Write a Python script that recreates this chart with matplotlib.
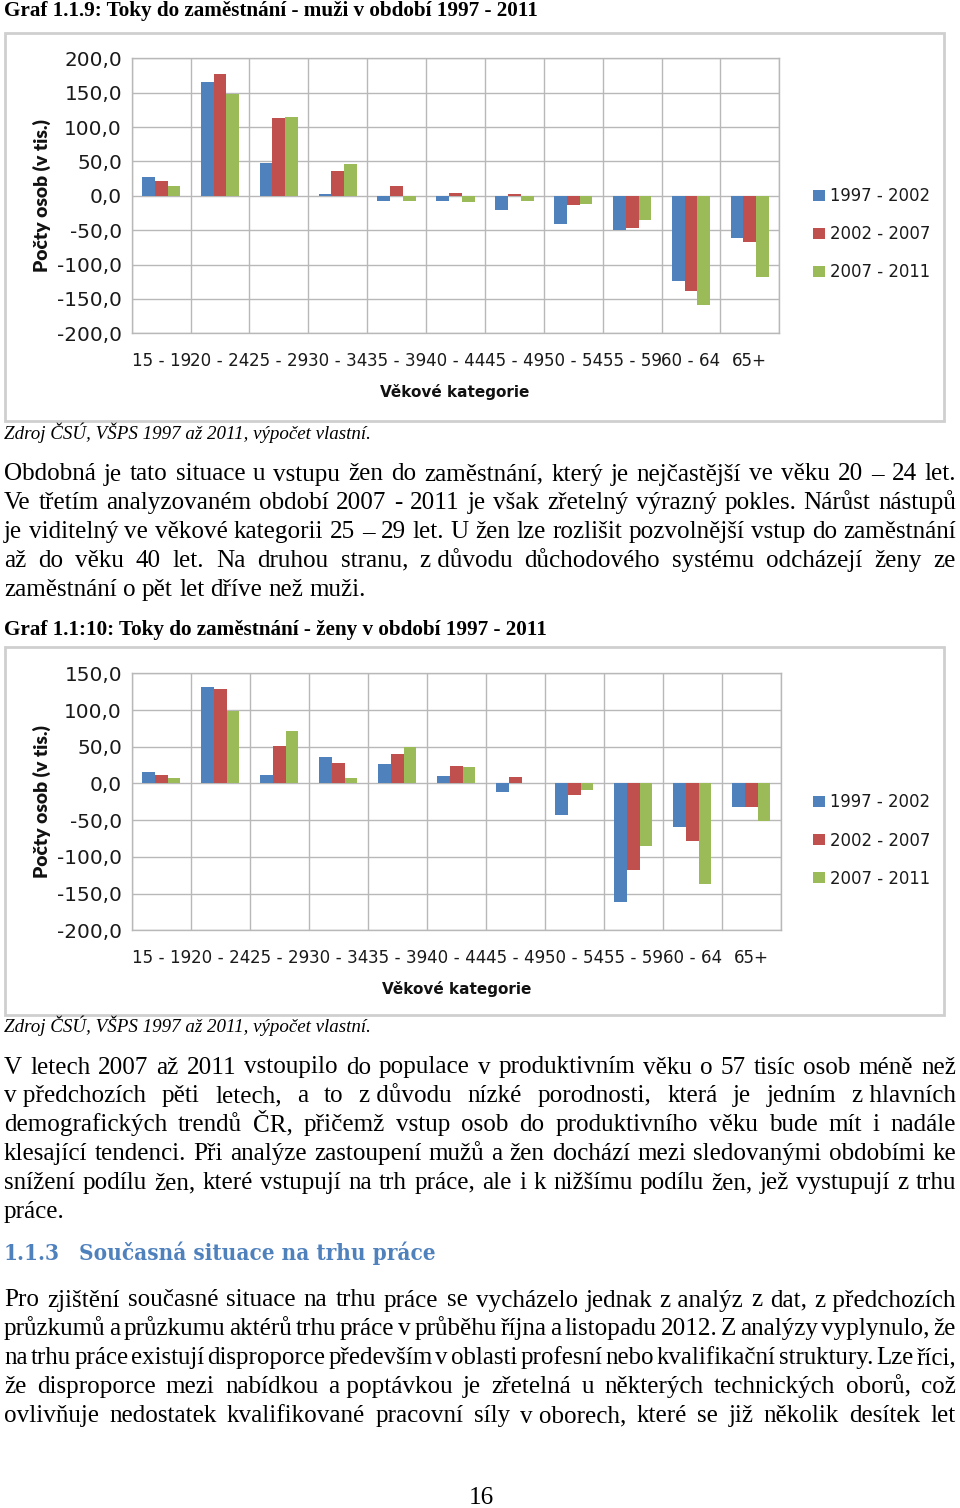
import matplotlib
matplotlib.use("Agg")
import matplotlib.pyplot as plt
from matplotlib.patches import Rectangle, Patch
import numpy as np

# ---------------- data ----------------
categories = ["15 - 19", "20 - 24", "25 - 29", "30 - 34", "35 - 39", "40 - 44",
              "45 - 49", "50 - 54", "55 - 59", "60 - 64", "65+"]
series_names = ["1997 - 2002", "2002 - 2007", "2007 - 2011"]

men_1997_2002 = [26.7, 165.8, 47.0, 2.0, -8.0, -8.0, -21.0, -41.7, -50.4, -123.6, -61.1]
men_2002_2007 = [21.8, 177.5, 113.0, 35.4, 13.6, 4.0, 3.0, -13.6, -46.5, -138.7, -67.9]
men_2007_2011 = [13.6, 148.4, 114.4, 45.6, -8.2, -9.7, -8.2, -11.2, -35.9, -159.5, -118.3]

women_1997_2002 = [15.6, 131.3, 11.0, 36.0, 26.5, 10.2, -11.0, -43.6, -161.0, -59.5, -32.2]
women_2002_2007 = [11.0, 129.0, 51.0, 27.9, 40.0, 23.3, 8.6, -16.0, -117.6, -79.0, -32.2]
women_2007_2011 = [6.9, 98.6, 71.0, 7.0, 49.2, 21.9, 0.0, -8.6, -85.3, -137.5, -50.8]

men_yticks = [-200, -150, -100, -50, 0, 50, 100, 150, 200]
women_yticks = [-200, -150, -100, -50, 0, 50, 100, 150]

colors = ["#4F81BD", "#C0504D", "#9BBB59"]

title_men = "Graf 1.1.9: Toky do zaměstnání - muži v období 1997 - 2011"
title_women = "Graf 1.1:10: Toky do zaměstnání - ženy v období 1997 - 2011"
source_text = "Zdroj ČSÚ, VŠPS 1997 až 2011, výpočet vlastní."
ylabel_text = "Počty osob (v tis.)"
xlabel_text = "Věkové kategorie"

para1 = [
    "Obdobná je tato situace u vstupu žen do zaměstnání, který je nejčastější ve věku 20 – 24 let.",
    "Ve třetím analyzovaném období 2007 - 2011 je však zřetelný výrazný pokles. Nárůst nástupů",
    "je viditelný ve věkové kategorii 25 – 29 let. U žen lze rozlišit pozvolnější vstup do zaměstnání",
    "až do věku 40 let. Na druhou stranu, z\u00a0důvodu důchodového systému odcházejí ženy ze",
    "zaměstnání o pět let dříve než muži.",
]
para2 = [
    "V letech 2007 až 2011 vstoupilo do populace v produktivním věku o 57 tisíc osob méně než",
    "v\u00a0předchozích pěti letech, a to z\u00a0důvodu nízké porodnosti, která je jedním z\u00a0hlavních",
    "demografických trendů ČR, přičemž vstup osob do produktivního věku bude mít i nadále",
    "klesající tendenci. Při analýze zastoupení mužů a žen dochází mezi sledovanými obdobími ke",
    "snížení podílu žen, které vstupují na trh práce, ale i k nižšímu podílu žen, jež vystupují z trhu",
    "práce.",
]
para3 = [
    "Pro zjištění současné situace na trhu práce se vycházelo jednak z\u00a0analýz z dat, z\u00a0předchozích",
    "průzkumů a průzkumu aktérů trhu práce v průběhu října a listopadu 2012. Z analýzy vyplynulo, že",
    "na trhu práce existují disproporce především v oblasti profesní nebo kvalifikační struktury. Lze říci,",
    "že disproporce mezi nabídkou a\u00a0poptávkou je zřetelná u některých technických oborů, což",
    "ovlivňuje nedostatek kvalifikované pracovní síly v\u00a0oborech, které se již několik desítek let",
]
heading_num = "1.1.3"
heading_text = "Současná situace na trhu práce"
page_number = "16"

# ---------------- figure ----------------
W, H = 960, 1508
fig = plt.figure(figsize=(W / 100, H / 100), dpi=100)
fig.patch.set_facecolor("white")
renderer = fig.canvas.get_renderer()

SERIF = "Liberation Serif"
SANS = "DejaVu Sans"
GRID = "#b8b8b8"


def text_width(s, **kw):
    t = fig.text(0, 0, s, **kw)
    w = t.get_window_extent(renderer).width
    t.remove()
    return w


def fitted_size(s, target, base=12.0, **kw):
    return base * target / text_width(s, fontsize=base, **kw)


def put(s, x, y, size, ha="left", va="baseline", **kw):
    return fig.text(x / W, 1 - y / H, s, fontsize=size, ha=ha, va=va, **kw)


# chart fonts (chart picture is stretched horizontally -> wide font)
tick_x_size = fitted_size("15 - 19", 59, family=SANS)
tick_y_size = fitted_size("200,0", 57, family=SANS)
legend_size = fitted_size("1997 - 2002", 100, family=SANS)
xlabel_size = fitted_size(xlabel_text, 150, family=SANS, weight="bold")
ylabel_size = fitted_size(ylabel_text, 152, family="Lato", weight="heavy")


def draw_chart(frame_tb, ax_box, data, yticks, ylab_y, xlab_xy, legend_y):
    ft, fb = frame_tb
    fig.patches.append(Rectangle((5 / W, 1 - fb / H), (944 - 5) / W, (fb - ft) / H,
                                 transform=fig.transFigure, fill=False,
                                 edgecolor="#cfcfcf", lw=2))
    l, t, r, b = ax_box
    ax = fig.add_axes([l / W, 1 - b / H, (r - l) / W, (b - t) / H])
    x = np.arange(len(categories))
    bw = 0.217
    for i, (vals, c) in enumerate(zip(data, colors)):
        ax.bar(x + (i - 1) * bw, vals, width=bw, color=c, zorder=3)
    ax.set_xlim(-0.5, len(categories) - 0.5)
    ax.set_ylim(yticks[0], yticks[-1])
    ax.set_yticks(yticks, [f"{v:.1f}".replace(".", ",") for v in yticks])
    ax.set_xticks(x, categories)
    ax.set_xticks(np.arange(-0.5, len(categories)), minor=True)
    ax.set_axisbelow(True)
    ax.yaxis.grid(True, which="major", color=GRID, lw=1)
    ax.xaxis.grid(True, which="minor", color=GRID, lw=1)
    ax.xaxis.grid(False, which="major")
    ax.tick_params(which="both", length=0)
    ax.tick_params(axis="y", pad=7, labelsize=tick_y_size, labelcolor="#1a1a1a")
    ax.tick_params(axis="x", pad=13.2, labelsize=tick_x_size, labelcolor="#1a1a1a")
    for lab in ax.get_xticklabels() + ax.get_yticklabels():
        lab.set_family(SANS)
    for s in ax.spines.values():
        s.set_color(GRID)
        s.set_linewidth(1)
    # axis titles
    put(ylabel_text, 42, ylab_y, ylabel_size, ha="center", va="center",
        rotation=90, family="Lato", weight="heavy", color="#111111")
    put(xlabel_text, xlab_xy[0], xlab_xy[1], xlabel_size, ha="center", va="center",
        family=SANS, weight="bold", color="#111111")
    # legend
    fpx = legend_size * 100 / 72
    handles = [Patch(facecolor=c, edgecolor="none") for c in colors]
    leg = ax.legend(handles, series_names, loc="center left",
                    bbox_to_anchor=(813 / W, 1 - legend_y / H), bbox_transform=fig.transFigure,
                    frameon=False, borderpad=0, borderaxespad=0,
                    handlelength=12 / fpx, handleheight=11 / fpx,
                    handletextpad=5 / fpx, labelspacing=(39.5 - 1.17 * fpx) / fpx,
                    prop={"family": SANS, "size": legend_size})
    for tx in leg.get_texts():
        tx.set_color("#1a1a1a")
    return ax


draw_chart((33, 421), (131.7, 58.3, 779.3, 333.3),
           [men_1997_2002, men_2002_2007, men_2007_2011], men_yticks,
           196, (455, 391.5), 234.3)
draw_chart((647, 1015), (131.7, 673.3, 780.7, 930.3),
           [women_1997_2002, women_2002_2007, women_2007_2011], women_yticks,
           802, (456.5, 988.5), 840.5)

# ---------------- page text ----------------
hsize = fitted_size(title_men, 534, family=SERIF, weight="bold")
put(title_men, 4, 16, hsize, family=SERIF, weight="bold")
put(title_women, 4, 635, hsize, family=SERIF, weight="bold")

ssize = fitted_size(source_text, 367, family=SERIF, style="italic")
put(source_text, 4, 439, ssize, family=SERIF, style="italic")
put(source_text, 4, 1032, ssize, family=SERIF, style="italic")

body_size = fitted_size("zaměstnání o pět let dříve než muži.", 362, family=SERIF)
space_w = text_width("a a", fontsize=body_size, family=SERIF) - \
    text_width("aa", fontsize=body_size, family=SERIF)

X0, X1 = 4, 956


def draw_line(line, y_base, justify):
    tokens = line.split(" ")
    size = body_size
    widths = [text_width(tk, fontsize=size, family=SERIF) for tk in tokens]
    avail = X1 - X0
    gap = space_w
    if justify and len(tokens) > 1:
        gap = (avail - sum(widths)) / (len(tokens) - 1)
        min_gap = 0.55 * space_w
        if gap < min_gap:
            k = avail / (sum(widths) + (len(tokens) - 1) * min_gap)
            size *= k
            widths = [w * k for w in widths]
            gap = min_gap * k
    xx = X0
    for tk, w in zip(tokens, widths):
        put(tk, xx, y_base, size, family=SERIF, color="black")
        xx += w + gap


def draw_paragraph(lines, first_base, last_justified=False, step=28.9):
    for i, ln in enumerate(lines):
        just = (i < len(lines) - 1) or last_justified
        draw_line(ln, first_base + i * step, just)


draw_paragraph(para1, 480.5)
draw_paragraph(para2, 1073.5)
draw_paragraph(para3, 1306.5, last_justified=True)

blue = "#4F81BD"
hd_kw = dict(family="DejaVu Serif", weight="bold", stretch="condensed")
hd_size = fitted_size(heading_text, 356, **hd_kw)
put(heading_num, 4, 1260, hd_size, color=blue, **hd_kw)
put(heading_text, 79, 1260, hd_size, color=blue, **hd_kw)

put(page_number, 481, 1504, body_size, ha="center", family=SERIF)

fig.savefig("out.png", dpi=100, facecolor="white")
